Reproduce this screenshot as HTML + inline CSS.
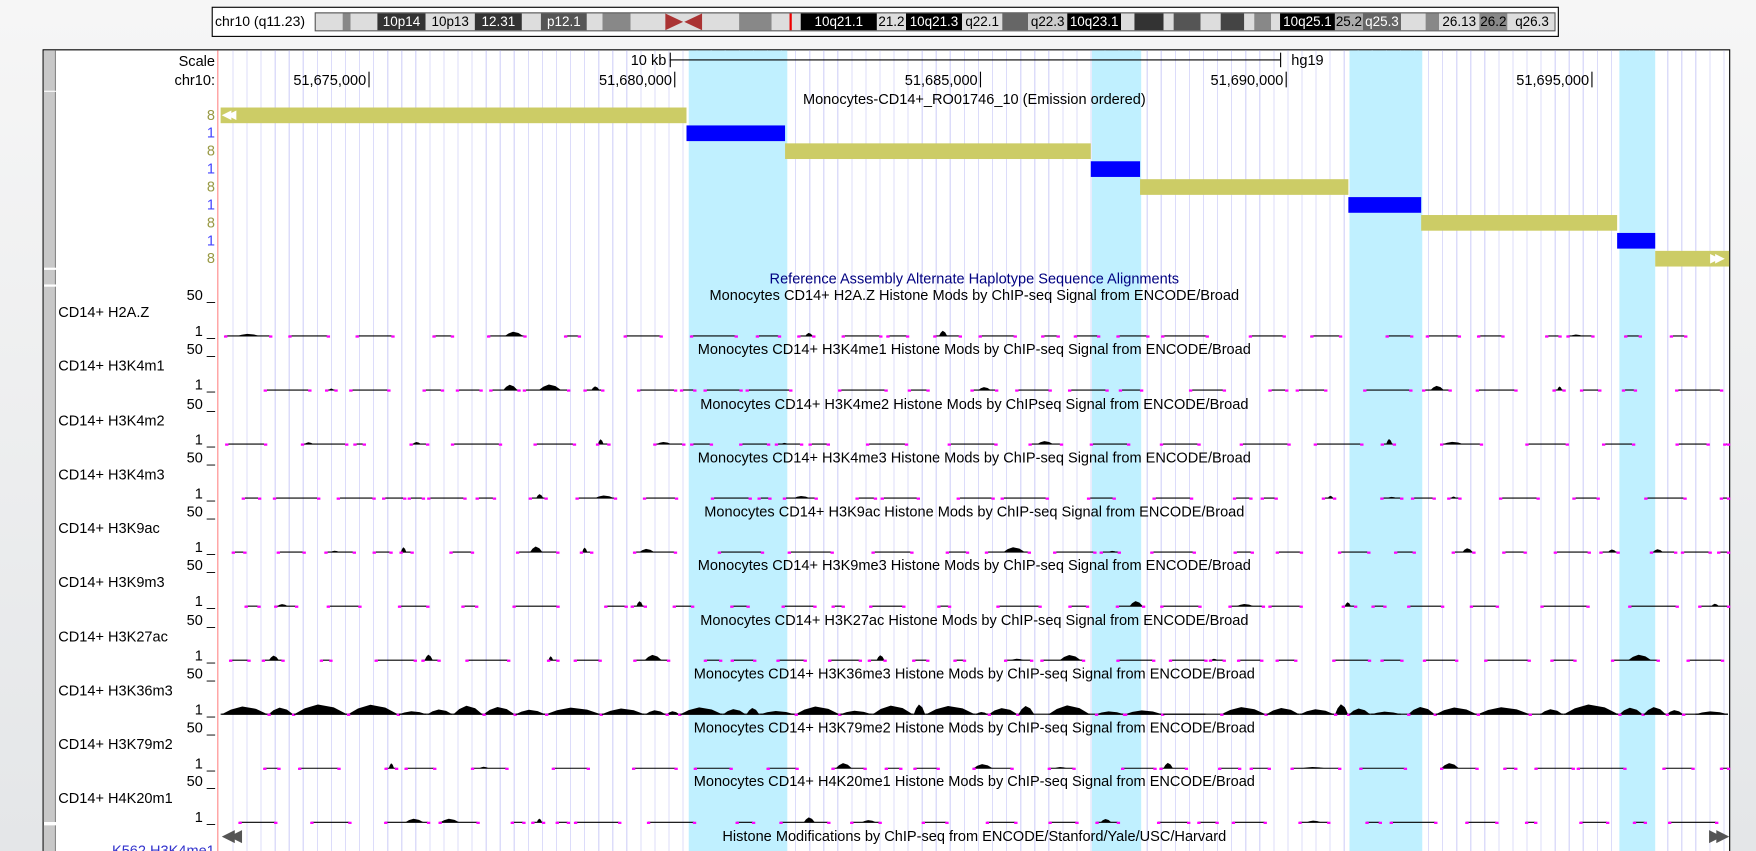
<!DOCTYPE html>
<html><head><meta charset="utf-8"><style>
html,body{margin:0;padding:0;width:1756px;height:851px;overflow:hidden;background:linear-gradient(#f6f6f6,#e4e6e8);}
#w{position:absolute;left:0;top:0;width:1568px;height:760px;overflow:hidden;transform:scale(1.1199);transform-origin:0 0;font-family:"Liberation Sans",Arial,sans-serif;font-size:13px;color:#000;}
.a{position:absolute;white-space:nowrap;}
.r{text-align:right;}
.b{position:absolute;}
</style></head><body><div id="w">
<div class="b" style="left:189px;top:6px;width:1203px;height:27px;background:#fff;border:1px solid #000;box-sizing:border-box"></div>
<div class="a" style="left:192px;top:12px;font-size:12.5px">chr10 (q11.23)</div>
<div class="b" id="ideo" style="left:281px;top:11px;width:1108px;height:17px;border:1px solid #555;box-sizing:border-box;background:#ddd;overflow:hidden"></div>
<div class="b" style="left:38px;top:44px;width:1507px;height:740px;background:#fff;border:1px solid #000;box-sizing:border-box"></div>
<div class="b" style="left:39px;top:45px;width:10px;height:36px;background:#c8c8c8;border-right:1px solid #888"></div>
<div class="b" style="left:39px;top:82px;width:10px;height:157px;background:#c8c8c8;border-right:1px solid #888"></div>
<div class="b" style="left:39px;top:241px;width:10px;height:13px;background:#c8c8c8;border-right:1px solid #888"></div>
<div class="b" style="left:39px;top:256px;width:10px;height:478px;background:#c8c8c8;border-right:1px solid #888"></div>
<div class="b" style="left:39px;top:737px;width:10px;height:40px;background:#c8c8c8;border-right:1px solid #888"></div>
<div class="b" style="left:194px;top:45px;width:1px;height:740px;background:#f88"></div>
<div class="b" style="left:196px;top:45px;width:1348px;height:740px;background:repeating-linear-gradient(90deg,transparent 0,transparent 11.5px,#dcdcfa 11.5px,#dcdcfa 12.56px)"></div>
<div class="b" style="left:615px;top:45px;width:88px;height:740px;background:#c0f0ff"></div>
<div class="b" style="left:975px;top:45px;width:44px;height:740px;background:#c0f0ff"></div>
<div class="b" style="left:1205px;top:45px;width:65px;height:740px;background:#c0f0ff"></div>
<div class="b" style="left:1446px;top:45px;width:32px;height:740px;background:#c0f0ff"></div>
<div class="a r" style="left:100px;width:92px;top:47px">Scale</div>
<div class="a r" style="left:100px;width:92px;top:64px">chr10:</div>
<div class="a r" style="left:500px;width:95px;top:46px">10 kb</div>
<div class="b" style="left:598px;top:53px;width:545px;height:1px;background:#000"></div>
<div class="b" style="left:598px;top:47px;width:1px;height:13px;background:#000"></div>
<div class="b" style="left:1143px;top:47px;width:1px;height:13px;background:#000"></div>
<div class="a" style="left:1153px;top:46px">hg19</div>
<div class="a r" style="left:227px;width:100px;top:64px">51,675,000</div><div class="b" style="left:329px;top:64px;width:1px;height:14px;background:#000"></div>
<div class="a r" style="left:500px;width:100px;top:64px">51,680,000</div><div class="b" style="left:602px;top:64px;width:1px;height:14px;background:#000"></div>
<div class="a r" style="left:773px;width:100px;top:64px">51,685,000</div><div class="b" style="left:875px;top:64px;width:1px;height:14px;background:#000"></div>
<div class="a r" style="left:1046px;width:100px;top:64px">51,690,000</div><div class="b" style="left:1148px;top:64px;width:1px;height:14px;background:#000"></div>
<div class="a r" style="left:1319px;width:100px;top:64px">51,695,000</div><div class="b" style="left:1421px;top:64px;width:1px;height:14px;background:#000"></div>
<div class="a" style="left:870px;top:81px;transform:translateX(-50%)">Monocytes-CD14+_RO01746_10 (Emission ordered)</div>
<div class="a r" style="left:170px;width:22px;top:96px;color:#999944;line-height:14px">8</div>
<div class="a r" style="left:170px;width:22px;top:112px;color:#4444ff;line-height:14px">1</div>
<div class="a r" style="left:170px;width:22px;top:128px;color:#999944;line-height:14px">8</div>
<div class="a r" style="left:170px;width:22px;top:144px;color:#4444ff;line-height:14px">1</div>
<div class="a r" style="left:170px;width:22px;top:160px;color:#999944;line-height:14px">8</div>
<div class="a r" style="left:170px;width:22px;top:176px;color:#4444ff;line-height:14px">1</div>
<div class="a r" style="left:170px;width:22px;top:192px;color:#999944;line-height:14px">8</div>
<div class="a r" style="left:170px;width:22px;top:208px;color:#4444ff;line-height:14px">1</div>
<div class="a r" style="left:170px;width:22px;top:224px;color:#999944;line-height:14px">8</div>
<div class="b" style="left:197px;top:96px;width:416px;height:14px;background:#cccc66"></div>
<div class="a" style="left:198px;top:96px;color:#fff;font-size:11px;line-height:14px;letter-spacing:-4px">◀◀</div>
<div class="b" style="left:613px;top:112px;width:88px;height:14px;background:#0000ff"></div>
<div class="b" style="left:701px;top:128px;width:273px;height:14px;background:#cccc66"></div>
<div class="b" style="left:974px;top:144px;width:44px;height:14px;background:#0000ff"></div>
<div class="b" style="left:1018px;top:160px;width:186px;height:14px;background:#cccc66"></div>
<div class="b" style="left:1204px;top:176px;width:65px;height:14px;background:#0000ff"></div>
<div class="b" style="left:1269px;top:192px;width:175px;height:14px;background:#cccc66"></div>
<div class="b" style="left:1444px;top:208px;width:34px;height:14px;background:#0000ff"></div>
<div class="b" style="left:1478px;top:224px;width:66px;height:14px;background:#cccc66"></div>
<div class="a" style="left:1527px;top:224px;color:#fff;font-size:11px;line-height:14px;letter-spacing:-4px">▶▶</div>
<div class="a" style="left:870px;top:241px;color:#000080;transform:translateX(-50%)">Reference Assembly Alternate Haplotype Sequence Alignments</div>
<div id="tracks"></div>
<svg id="sig" class="b" style="left:0;top:0" width="1568" height="760"></svg>
<div class="a" style="left:198px;top:737px;color:#555;font-size:15px;letter-spacing:-5px">◀◀</div>
<div class="a" style="left:1526px;top:737px;color:#555;font-size:15px;letter-spacing:-5px">▶▶</div>
<div class="a" style="left:870px;top:739px;transform:translateX(-50%)">Histone Modifications by ChIP-seq from ENCODE/Stanford/Yale/USC/Harvard</div>
<div class="a" style="left:100px;top:752px;color:#3333cc">K562 H3K4me1</div>
</div>
<script>
var bands=[[281,305,'#ddd'],[305,312,'#888'],[312,336,'#ddd'],[336,379,'#333','10p14'],[379,423,'#ddd','10p13'],[423,465,'#333','12.31'],[465,482,'#ddd'],[482,523,'#555','p12.1'],[523,537,'#ddd'],[537,562,'#888'],[562,593,'#ddd'],[626,659,'#ddd'],[659,688,'#888'],[688,714,'#ddd'],[714,782,'#000','10q21.1'],[782,808,'#ddd','21.2'],[808,858,'#000','10q21.3'],[858,894,'#ddd','q22.1'],[894,917,'#666'],[917,952,'#ccc','q22.3'],[952,1000,'#000','10q23.1'],[1000,1012,'#ddd'],[1012,1038,'#333'],[1038,1047,'#ddd'],[1047,1071,'#555'],[1071,1089,'#ddd'],[1089,1110,'#444'],[1110,1119,'#ddd'],[1119,1134,'#888'],[1134,1142,'#ddd'],[1142,1191,'#000','10q25.1'],[1191,1216,'#aaa','25.2'],[1216,1250,'#666','q25.3'],[1250,1272,'#ddd'],[1272,1284,'#888'],[1284,1320,'#ddd','26.13'],[1320,1345,'#888','26.2'],[1345,1389,'#ddd','q26.3']];
var ih='';bands.forEach(function(b){var dark=['#000','#333','#444','#555','#666'].indexOf(b[2])>=0;ih+='<div style="position:absolute;left:'+(b[0]-281)+'px;top:0;width:'+(b[1]-b[0])+'px;height:15px;background:'+b[2]+';color:'+(dark?'#fff':'#000')+';font-size:12px;line-height:15px;text-align:center;overflow:hidden;white-space:nowrap">'+(b[3]||'')+'</div>';});
ih+='<svg style="position:absolute;left:312px;top:0" width="33" height="15"><polygon points="0,0 16,7.5 0,15" fill="#a33"/><polygon points="33,0 17,7.5 33,15" fill="#a33"/></svg>';
ih+='<div style="position:absolute;left:423px;top:-2px;width:2px;height:19px;background:#e00"></div>';
document.getElementById('ideo').innerHTML=ih;
var T=[['H2A.Z','Monocytes CD14+ H2A.Z Histone Mods by ChIP-seq Signal from ENCODE/Broad'],['H3K4m1','Monocytes CD14+ H3K4me1 Histone Mods by ChIP-seq Signal from ENCODE/Broad'],['H3K4m2','Monocytes CD14+ H3K4me2 Histone Mods by ChIPseq Signal from ENCODE/Broad'],['H3K4m3','Monocytes CD14+ H3K4me3 Histone Mods by ChIP-seq Signal from ENCODE/Broad'],['H3K9ac','Monocytes CD14+ H3K9ac Histone Mods by ChIP-seq Signal from ENCODE/Broad'],['H3K9m3','Monocytes CD14+ H3K9me3 Histone Mods by ChIP-seq Signal from ENCODE/Broad'],['H3K27ac','Monocytes CD14+ H3K27ac Histone Mods by ChIP-seq Signal from ENCODE/Broad'],['H3K36m3','Monocytes CD14+ H3K36me3 Histone Mods by ChIP-seq Signal from ENCODE/Broad'],['H3K79m2','Monocytes CD14+ H3K79me2 Histone Mods by ChIP-seq Signal from ENCODE/Broad'],['H4K20m1','Monocytes CD14+ H4K20me1 Histone Mods by ChIP-seq Signal from ENCODE/Broad']];
var h='',s='',seed=7;function rnd(){seed=(seed*16807)%2147483647;return seed/2147483647;}
T.forEach(function(t,i){var y=256+i*48.25;
h+='<div class="a" style="left:870px;top:'+y+'px;transform:translateX(-50%)">'+t[1]+'</div>';
h+='<div class="a r" style="left:120px;width:72px;top:'+y+'px">50 _</div>';
h+='<div class="a" style="left:52px;top:'+(y+15)+'px">CD14+ '+t[0]+'</div>';
h+='<div class="a r" style="left:120px;width:72px;top:'+(y+32)+'px">1 _</div>';
var by=y+44,x=197,dense=(i==7);
if(dense){s+='<line x1="197" y1="'+by+'" x2="1543" y2="'+by+'" stroke="#000"/>';}
while(x<1540){var gap=dense?(rnd()<0.8?1:rnd()*15):rnd()*40+4;x+=gap;var len=dense?rnd()*40+10:rnd()*35+8;if(x+len>1543)len=1543-x;if(len<3)break;
s+='<line x1="'+x+'" y1="'+by+'" x2="'+(x+len)+'" y2="'+by+'" stroke="#000" stroke-width="1"/>';
if(rnd()<(dense?0.95:0.35)){var hp=dense?(rnd()*7+2):(rnd()*4+1);var px=x,pw=dense?len:Math.min(len*0.5,rnd()*25+6);if(!dense)px=x+rnd()*len*0.5;s+='<polygon points="'+px+','+by+' '+(px+pw*0.2)+','+(by-hp*0.6)+' '+(px+pw*0.45)+','+(by-hp)+' '+(px+pw*0.75)+','+(by-hp*0.7)+' '+(px+pw)+','+by+'" fill="#000"/>';}
if(!dense||rnd()<0.3){s+='<rect x="'+(x-1)+'" y="'+(by-0.5)+'" width="3" height="2" fill="#f0f"/><rect x="'+(x+len-1)+'" y="'+(by-0.5)+'" width="3" height="2" fill="#f0f"/>';}
x+=len;}
});
document.getElementById('tracks').innerHTML=h;document.getElementById('sig').innerHTML=s;
</script>
</body></html>
